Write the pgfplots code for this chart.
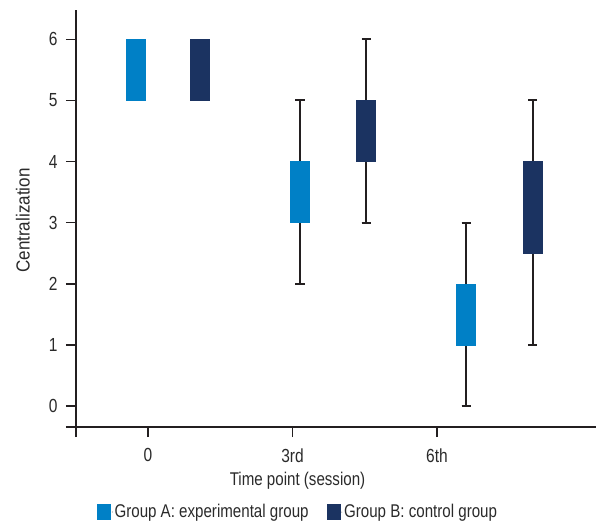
\documentclass[border=0pt]{standalone}
\usepackage{pgfplots}
\pgfplotsset{compat=1.18}
\usepgfplotslibrary{statistics}
\usepackage{fontspec}
\setmainfont{Liberation Sans}[FakeStretch=0.82]
\newfontfamily\ylfont{Liberation Sans}[FakeStretch=0.9]
\definecolor{colA}{HTML}{0080C6}
\definecolor{colB}{HTML}{1B3361}
\definecolor{ink}{HTML}{231F20}
\definecolor{txt}{HTML}{2A2A2A}
\begin{document}
\begin{tikzpicture}
\begin{axis}[
  name=ax,
  scale only axis, width=520bp, height=417bp,
  xmin=-0.498, xmax=3.100, ymin=-0.344, ymax=6.48,
  axis x line*=bottom, axis y line*=left,
  axis line style={-, ink, line width=1.5bp},
  xtick={0,1,2}, xticklabels={0,3rd,6th},
  extra x ticks={-0.498}, extra x tick labels={},
  ytick={0,1,2,3,4,5,6},
  extra y ticks={-0.344}, extra y tick labels={},
  extra tick style={grid=none},
  tick align=outside, major tick length=10bp,
  every tick/.style={ink, line width=1.5bp},
  tick label style={font=\fontsize{19}{21}\selectfont, text=txt},
  xticklabel style={yshift=-8bp},
  yticklabel style={xshift=-5bp},
  /pgf/number format/assume math mode=true,
  xlabel={Time point (session)},
  xlabel style={at={(axis description cs:0.426,-0.1295)}, anchor=center, font=\fontsize{18.5}{20}\selectfont, text=txt},
  ylabel={Centralization},
  ylabel style={at={(axis description cs:-0.102,0.495)}, anchor=center, font=\fontsize{19}{20}\ylfont, text=txt},
  legend style={at={(axis description cs:0.427,-0.204)}, anchor=center, draw=none, fill=none,
    font=\fontsize{18.5}{20}\selectfont, text=txt, legend columns=2,
    /tikz/every even column/.append style={column sep=16bp}, nodes={inner sep=2bp}},
  boxplot/draw direction=y,
  boxplot/every whisker/.style={draw=ink, line width=2bp},
  boxplot/draw/median/.code={},
  boxplot/box extend=0.1315,
  boxplot/whisker extend=0.0623,
  clip=false,
]
\addlegendimage{legend image code/.code={\fill[colA] (0bp,-7.5bp) rectangle (13bp,7.5bp);\path (15bp,0) circle (0.1bp);}}
\addlegendentry{Group A: experimental group}
\addlegendimage{legend image code/.code={\fill[colB] (0bp,-7.5bp) rectangle (13bp,7.5bp);\path (15bp,0) circle (0.1bp);}}
\addlegendentry{Group B: control group}

% Session 0 (no whiskers)
\addplot[fill=colA, draw=colA, forget plot,
  boxplot/draw/lower whisker/.code={}, boxplot/draw/upper whisker/.code={},
  boxplot prepared={draw position=-0.0865, lower whisker=5, lower quartile=5, median=5.5, upper quartile=6, upper whisker=6}]
  coordinates {};
\addplot[fill=colB, draw=colB, forget plot,
  boxplot/draw/lower whisker/.code={}, boxplot/draw/upper whisker/.code={},
  boxplot prepared={draw position=0.3599, lower whisker=5, lower quartile=5, median=5.5, upper quartile=6, upper whisker=6}]
  coordinates {};
% Session 3
\addplot[fill=colA, draw=colA, forget plot,
  boxplot prepared={draw position=1.0519, lower whisker=2, lower quartile=3, median=3.5, upper quartile=4, upper whisker=5}]
  coordinates {};
\addplot[fill=colB, draw=colB, forget plot,
  boxplot prepared={draw position=1.5087, lower whisker=3, lower quartile=4, median=4.5, upper quartile=5, upper whisker=6}]
  coordinates {};
% Session 6
\addplot[fill=colA, draw=colA, forget plot,
  boxplot prepared={draw position=2.2007, lower whisker=0, lower quartile=1, median=1.5, upper quartile=2, upper whisker=3}]
  coordinates {};
\addplot[fill=colB, draw=colB, forget plot,
  boxplot prepared={draw position=2.6609, lower whisker=1, lower quartile=2.5, median=3, upper quartile=4, upper whisker=5}]
  coordinates {};
\end{axis}
\pgfresetboundingbox
\path[use as bounding box] ([xshift=-76bp,yshift=-97bp]ax.south west) rectangle ([yshift=10bp]ax.north east);
\end{tikzpicture}
\end{document}
